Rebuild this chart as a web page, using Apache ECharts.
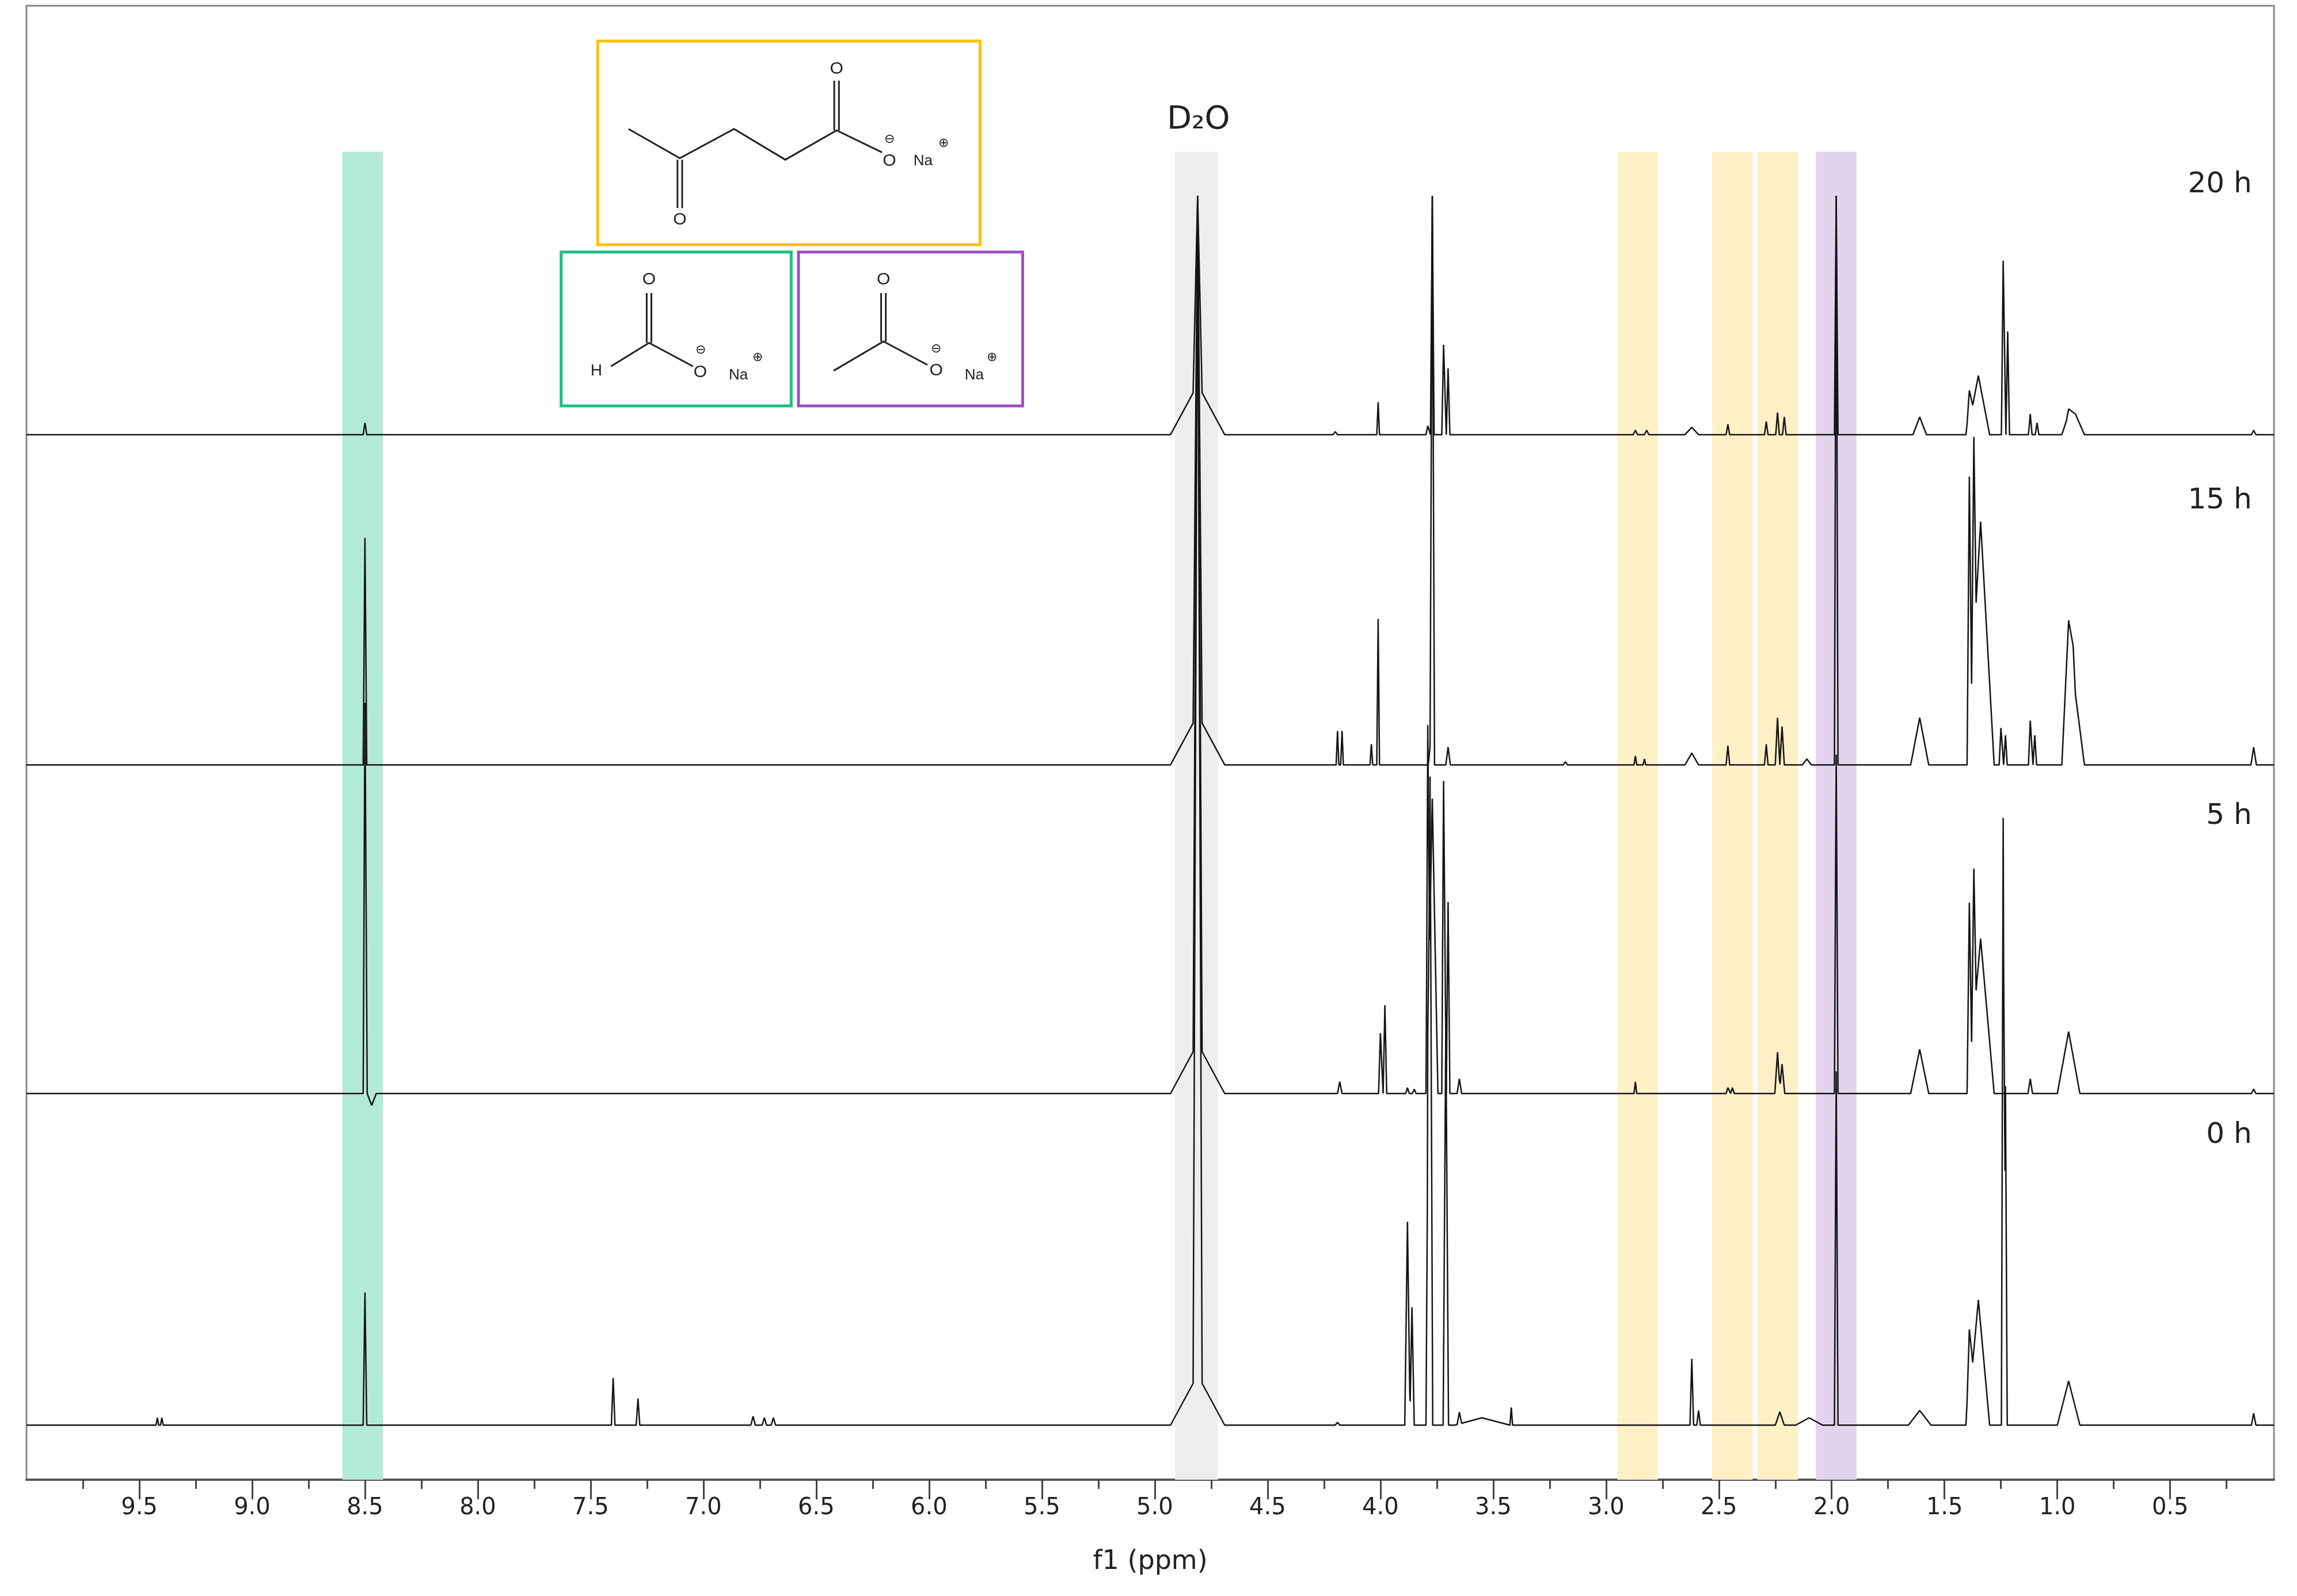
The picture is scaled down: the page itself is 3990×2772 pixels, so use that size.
<!DOCTYPE html>
<html><head><meta charset="utf-8">
<script src="https://cdn.jsdelivr.net/npm/echarts@6/dist/echarts.min.js"></script>
<style>html,body{margin:0;padding:0;background:#fff}#c{width:3990px;height:2772px}</style>
</head><body><div id="c"></div>
<script>
// ---- data (ppm, height, half-width); heights in chart units ----
const spectraNames = ['0 h', '5 h', '15 h', '20 h'];
const baselines = [37, 262, 485, 709];
const peaks0h = [[9.42,5,0.006],[9.40,5,0.006],[8.50,90,0.008],[7.40,32,0.008],[7.29,18,0.008],[6.78,6,0.01],[6.73,5,0.01],[6.69,5,0.01],
  [4.81,800,0.02],[4.81,34,0.12],[4.19,2,0.01],[3.88,138,0.012],[3.86,80,0.01],[3.79,193,0.008],[3.78,440,0.012],[3.71,270,0.012],[3.65,8,0.01],[3.55,5,0.12],
  [3.42,12,0.006],[2.62,45,0.008],[2.59,10,0.008],[2.23,9,0.02],[2.10,5,0.06],[1.98,240,0.008],[1.61,10,0.05],[1.39,48,0.015],[1.35,85,0.05],
  [1.24,412,0.008],[1.23,230,0.008],[0.95,30,0.05],[0.13,8,0.01]];
const peaks5h = [[8.50,265,0.008],[8.47,-8,0.02],[4.81,575,0.02],[4.81,34,0.12],[4.18,8,0.01],[4.00,41,0.008],[3.98,60,0.008],[3.88,4,0.008],[3.85,3,0.008],
  [3.79,210,0.008],[3.77,200,0.025],[3.72,212,0.008],[3.70,130,0.008],[3.65,10,0.01],[2.87,8,0.006],[2.46,4,0.008],[2.44,4,0.008],[2.24,28,0.012],[2.22,20,0.012],
  [1.98,230,0.008],[1.61,30,0.04],[1.39,112,0.01],[1.37,100,0.01],[1.34,105,0.06],[1.12,10,0.01],[0.95,42,0.05],[0.13,3,0.01]];
const peaks15h = [[8.50,154,0.008],[4.81,352,0.02],[4.81,34,0.12],[4.19,23,0.006],[4.17,23,0.006],[4.04,14,0.006],[4.01,99,0.006],[3.78,12,0.008],[3.77,386,0.01],
  [3.70,12,0.01],[3.18,2,0.01],[2.87,6,0.006],[2.83,4,0.006],[2.62,8,0.03],[2.46,13,0.008],[2.29,14,0.008],[2.24,32,0.01],[2.22,26,0.01],[2.11,4,0.02],
  [1.98,386,0.008],[1.61,32,0.04],[1.39,168,0.01],[1.37,140,0.01],[1.34,165,0.06],[1.25,25,0.008],[1.23,20,0.008],[1.12,30,0.008],[1.10,20,0.008],
  [0.95,62,0.03],[0.93,60,0.05],[0.13,12,0.012]];
const peaks20h = [[8.50,8,0.008],[4.81,128,0.02],[4.81,34,0.12],[4.20,2,0.01],[4.01,22,0.006],[3.79,6,0.008],[3.77,162,0.008],[3.72,61,0.008],[3.70,45,0.008],
  [2.87,3,0.01],[2.82,3,0.01],[2.62,5,0.03],[2.46,7,0.008],[2.29,9,0.008],[2.24,15,0.008],[2.21,12,0.008],[1.98,162,0.008],[1.61,12,0.03],
  [1.39,22,0.015],[1.35,40,0.05],[1.24,118,0.008],[1.22,70,0.008],[1.12,14,0.008],[1.09,8,0.008],[0.95,14,0.03],[0.92,14,0.04],[0.13,3,0.01]];
const allPeaks = [peaks0h, peaks5h, peaks15h, peaks20h];
const tickLabels = [0.5,1.0,1.5,2.0,2.5,3.0,3.5,4.0,4.5,5.0,5.5,6.0,6.5,7.0,7.5,8.0,8.5,9.0,9.5];
const minorTicks = [0.25,0.5,0.75,1,1.25,1.5,1.75,2,2.25,2.5,2.75,3,3.25,3.5,3.75,4,4.25,4.5,4.75,5,5.25,5.5,5.75,6,6.25,6.5,6.75,7,7.25,7.5,7.75,8,8.25,8.5,8.75,9,9.25,9.5,9.75];
const bands = [[8.42,8.60,'#b3ead5'],[4.72,4.91,'#ededed'],[2.77,2.95,'#fff0c8'],[2.35,2.53,'#fff0c8'],[2.15,2.33,'#fff0c8'],[1.89,2.07,'#e3d3ed']];
const XMIN = 0.04, XMAX = 10.0;

function build(pk, base){
  const xs = [XMIN, XMAX];
  pk.forEach(p => xs.push(p[0]-p[2], p[0], p[0]+p[2]));
  xs.sort((a,b)=>a-b);
  return xs.map(x => {
    let y = base;
    pk.forEach(p => { const d = Math.abs(x-p[0]); if (d < p[2]) y += p[1]*(1-d/p[2]); });
    return [x, y];
  });
}

const K = 2.545; // reference display units -> page px
const S = v => v*K;
const graphics = [];
function line(pts, color){ graphics.push({type:'polyline', shape:{points:pts.map(p=>[S(p[0]),S(p[1])])}, style:{stroke:color||'#222', lineWidth:3, fill:null}, z:100}); }
function dbl(x, y1, y2){ line([[x-1.6,y1],[x-1.6,y2]]); line([[x+1.6,y1],[x+1.6,y2]]); }
function txt(x, y, t, fs, extra){ graphics.push({type:'text', x:S(x), y:S(y), style:Object.assign({text:t, fontSize:fs, fontFamily:'Liberation Sans', fill:'#222', align:'center', verticalAlign:'middle'}, extra||{}), z:100}); }
function box(x1,y1,x2,y2,c){ graphics.push({type:'rect', shape:{x:S(x1),y:S(y1),width:S(x2-x1),height:S(y2-y1)}, style:{stroke:c, lineWidth:5, fill:'#fff'}, z:99}); }
// levulinate
box(408,28,669,167,'#FFC000');
line([[429,88],[464,108],[501,88],[536,109],[571,89],[602,104]]);
dbl(571,55,89); dbl(464,109,142);
txt(571,47,'O',30); txt(464,150,'O',30); txt(607,110,'O',30); txt(607,95,'⊖',22); txt(630,110,'Na',26); txt(644,98,'⊕',22);
// formate
box(383,172,540,277,'#1DBF80');
line([[417,250],[443,234],[473,250]]); dbl(443,200,234);
txt(407,253,'H',28); txt(443,191,'O',30); txt(478,254,'O',30); txt(478,239,'⊖',22); txt(504,256,'Na',26); txt(517,244,'⊕',22);
// acetate
box(545,172,698,277,'#9E4FC2');
line([[569,253],[603,233],[633,249]]); dbl(603,200,233);
txt(603,191,'O',30); txt(639,253,'O',30); txt(639,238,'⊖',22); txt(665,256,'Na',26); txt(677,244,'⊕',22);
// labels
txt(818,82,'D₂O',56,{fontFamily:'DejaVu Sans'});
[['20 h',126],['15 h',342],['5 h',557],['0 h',775]].forEach(a=>txt(1537,a[1],a[0],50,{fontFamily:'DejaVu Sans',align:'right'}));

const series = allPeaks.map((pk,i)=>({type:'line', name:spectraNames[i], data:build(pk, baselines[i]), showSymbol:false, symbol:'none', z:3,
  lineStyle:{color:'#151515', width:2.5}}));
series.push({type:'line', data:[], z:1, markArea:{silent:true, data:bands.map(b=>[{xAxis:b[0], yAxis:0, itemStyle:{color:b[2]}},{xAxis:b[1], yAxis:901}])}});

const chart = echarts.init(document.getElementById('c'));
chart.setOption({
  animation:false, backgroundColor:'#fff',
  grid:{left:46, right:40, top:10, bottom:202, show:true, borderColor:'#8a8a8a', borderWidth:3, backgroundColor:'transparent'},
  xAxis:[
    {type:'value', min:XMIN, max:XMAX, inverse:true, position:'bottom', splitLine:{show:false},
     axisLine:{lineStyle:{color:'#555', width:4}},
     axisTick:{customValues:tickLabels, length:34, lineStyle:{color:'#444', width:3}},
     axisLabel:{customValues:tickLabels, formatter:v=>v.toFixed(1), fontSize:40, fontFamily:'DejaVu Sans', color:'#222', margin:30},
     name:'f1 (ppm)', nameLocation:'middle', nameGap:120, nameTextStyle:{fontSize:46, fontFamily:'DejaVu Sans', color:'#222'}},
    {type:'value', min:XMIN, max:XMAX, inverse:true, position:'bottom', splitLine:{show:false},
     axisLine:{show:false}, axisTick:{customValues:minorTicks, length:16, lineStyle:{color:'#444', width:3}}, axisLabel:{show:false}}
  ],
  yAxis:{type:'value', min:0, max:1000, show:false},
  series:series,
  graphic:graphics
});
</script></body></html>
